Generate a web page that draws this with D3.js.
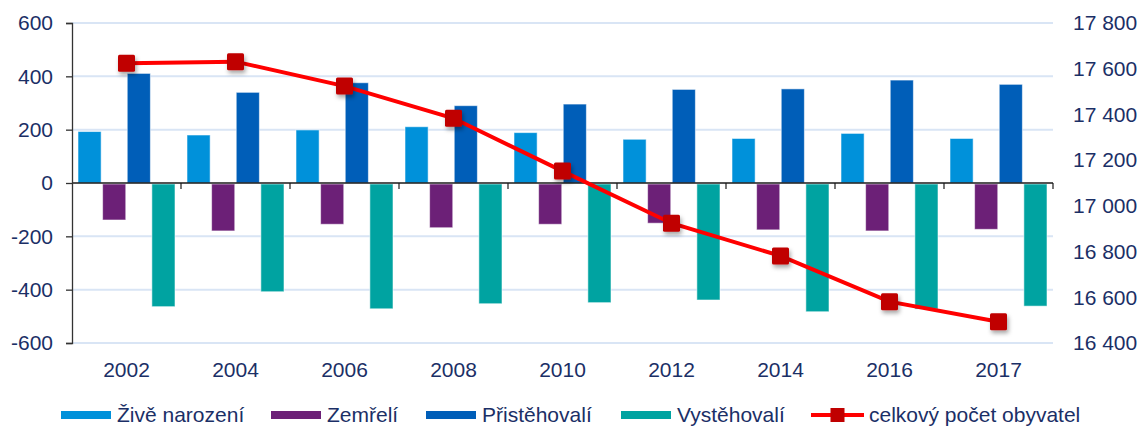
<!DOCTYPE html>
<html><head><meta charset="utf-8">
<script src="https://cdn.jsdelivr.net/npm/d3@7"></script>
<style>body{margin:0;background:#fff}svg{display:block}text{font-family:"Liberation Sans",Arial,sans-serif}</style>
</head><body>
<svg id="c" width="1138" height="426"></svg>
<script>
const years = ["2002","2004","2006","2008","2010","2012","2014","2016","2017"];
const seriesNames = ["Živě narození","Zemřelí","Přistěhovalí","Vystěhovalí"];
const zive = [193, 180, 199, 211, 189, 164, 167, 186, 167];
const zemreli = [-135, -176, -151, -164, -151, -147, -172, -176, -170];
const pristehovali = [411, 340, 376, 290, 296, 351, 353, 386, 370];
const vystehovali = [-460, -404, -468, -449, -445, -435, -479, -469, -458];
const obyvatel = [17624, 17631, 17524, 17383, 17152, 16924, 16781, 16581, 16493];
const leftTicks = [-600,-400,-200,0,200,400,600];
const rightTicks = [16400,16600,16800,17000,17200,17400,17600,17800];
const lineName = "celkový počet obyvatel";
const colors = ["#0091da","#6c2077","#005eb8","#00a3a1"];
const textColor = "#1b2f66";

const svg = d3.select("#c");
const L = 72, R = 1053, T = 23, B = 343;
const x0 = d3.scaleBand().domain(years).range([L,R]);
const x1 = d3.scaleBand().domain(seriesNames).range([6,103]).paddingInner(0.06);
const y = d3.scaleLinear().domain([-600,600]).range([B,T]);
const y2 = d3.scaleLinear().domain([16400,17800]).range([B,T]);

const defs = svg.append("defs");
const f = defs.append("filter").attr("id","sh").attr("x","-50%").attr("y","-50%").attr("width","200%").attr("height","200%");
f.append("feDropShadow").attr("dx",1.5).attr("dy",3).attr("stdDeviation",2).attr("flood-color","#000").attr("flood-opacity",0.35);

// gridlines
svg.append("g").selectAll("line").data(leftTicks.filter(d=>d!==0)).join("line")
  .attr("x1",L).attr("x2",R).attr("y1",d=>y(d)).attr("y2",d=>y(d))
  .attr("stroke","#d9e5f5").attr("stroke-width",2);

// bars
const data = [zive, zemreli, pristehovali, vystehovali];
const gBars = svg.append("g");
seriesNames.forEach((s,si)=>{
  gBars.append("g").selectAll("rect").data(years.map((yr,i)=>({yr,v:data[si][i]}))).join("rect")
    .attr("x",d=>x0(d.yr)+x1(s))
    .attr("width",x1.bandwidth())
    .attr("y",d=>d.v>=0?y(d.v):y(0)+1)
    .attr("height",d=>Math.abs(y(d.v)-y(0)))
    .attr("fill",colors[si])
    .attr("stroke","#ffffff").attr("stroke-opacity",0.55).attr("stroke-width",1);
});

// zero axis
const xAxis = d3.axisBottom(x0).tickSize(0).tickFormat("");
svg.append("line").attr("x1",L).attr("x2",R).attr("y1",y(0)).attr("y2",y(0)).attr("stroke","#1a1a1a").attr("stroke-width",1.5);
svg.append("g").selectAll("line").data(years.slice(1).map(d=>x0(d)).concat([R])).join("line")
  .attr("x1",d=>d).attr("x2",d=>d).attr("y1",y(0)).attr("y2",y(0)+6).attr("stroke","#1a1a1a").attr("stroke-width",1.2);

// category labels
svg.append("g").selectAll("text").data(years).join("text")
  .attr("x",d=>x0(d)+x0.bandwidth()/2).attr("y",377)
  .attr("text-anchor","middle").attr("font-size",21).attr("fill",textColor).text(d=>d);

// left axis
const ya = d3.axisLeft(y).tickValues(leftTicks).tickSize(6).tickPadding(13).tickFormat(d=>String(d));
const gl = svg.append("g").attr("transform",`translate(${L},0)`).call(ya);
gl.select(".domain").attr("stroke","#333").attr("stroke-width",1.3);
gl.selectAll(".tick line").attr("stroke","#333").attr("stroke-width",1.3);
gl.selectAll(".tick text").attr("font-size",21).attr("fill",textColor).attr("font-family","Liberation Sans, Arial, sans-serif");

// right axis
const yb = d3.axisRight(y2).tickValues(rightTicks).tickSize(0).tickPadding(20)
  .tickFormat(d=>d3.format(",")(d).replace(/,/g," "));
const gr = svg.append("g").attr("transform",`translate(${R},0)`).call(yb);
gr.select(".domain").remove();
gr.selectAll(".tick text").attr("font-size",21).attr("fill",textColor).attr("font-family","Liberation Sans, Arial, sans-serif");

// line
const cx = d=>x0(d)+x0.bandwidth()/2;
const line = d3.line().x((d,i)=>cx(years[i])).y(d=>y2(d));
svg.append("path").datum(obyvatel).attr("d",line).attr("fill","none").attr("stroke","#ff0000").attr("stroke-width",4);
const ms = 17;
svg.append("g").selectAll("rect").data(obyvatel).join("rect")
  .attr("x",(d,i)=>cx(years[i])-ms/2).attr("y",d=>y2(d)-ms/2)
  .attr("width",ms).attr("height",ms).attr("rx",1.5)
  .attr("fill","#c00000").attr("filter","url(#sh)");

// legend
const legX = [61, 271, 426, 621];
const leg = svg.append("g");
seriesNames.forEach((s,i)=>{
  leg.append("rect").attr("x",legX[i]).attr("y",411).attr("width",50).attr("height",8).attr("fill",colors[i]);
  leg.append("text").attr("x",legX[i]+56).attr("y",421.5).attr("font-size",21).attr("fill",textColor).text(s);
});
leg.append("line").attr("x1",811).attr("x2",864).attr("y1",415).attr("y2",415).attr("stroke","#ff0000").attr("stroke-width",4);
leg.append("rect").attr("x",837.5-7).attr("y",415-7).attr("width",14).attr("height",14).attr("fill","#c00000");
leg.append("text").attr("x",869).attr("y",421.5).attr("font-size",21).attr("fill",textColor).text(lineName);
</script>
</body></html>
